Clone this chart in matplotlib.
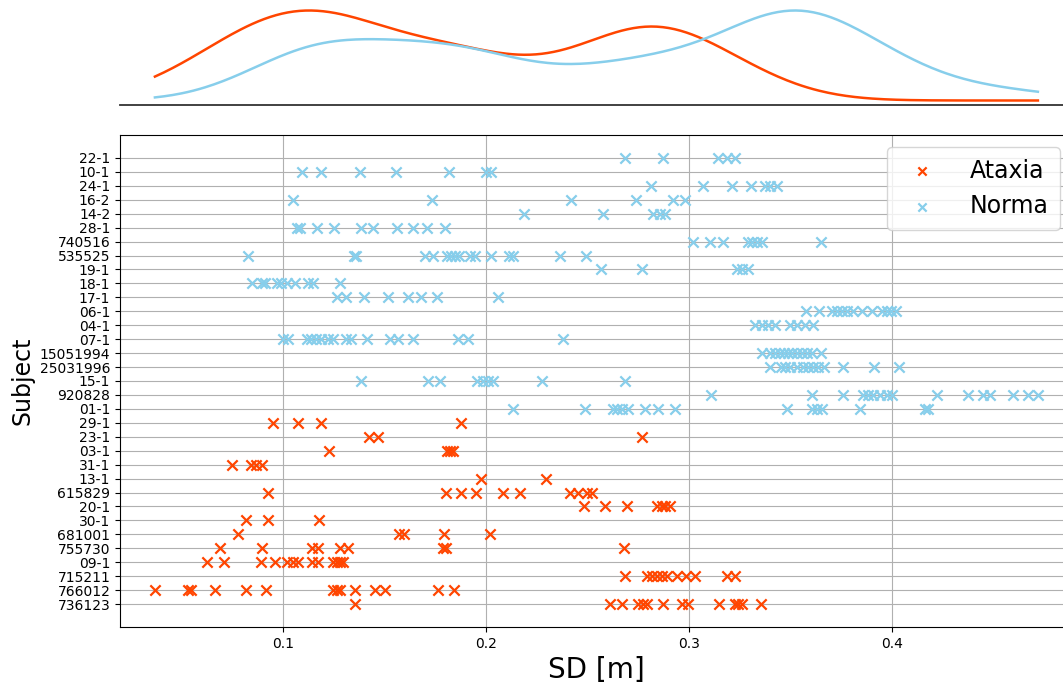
import numpy as np
import pandas as pd
import matplotlib
matplotlib.use("Agg")
import matplotlib.pyplot as plt

# Subjects listed top to bottom on the y axis
subject_order = [
    "22-1", "10-1", "24-1", "16-2", "14-2", "28-1", "740516", "535525", "19-1",
    "18-1", "17-1", "06-1", "04-1", "07-1", "15051994", "25031996", "15-1",
    "920828", "01-1", "29-1", "23-1", "03-1", "31-1", "13-1", "615829", "20-1",
    "30-1", "681001", "755730", "09-1", "715211", "766012", "736123",
]

# Step-width standard deviation per trial, control group
norma_subjects = [
    "22-1", "10-1", "24-1", "16-2", "14-2", "28-1", "740516", "535525", "19-1",
    "18-1", "17-1", "06-1", "04-1", "07-1", "15051994", "25031996", "15-1",
    "920828", "01-1",
]
norma_sd = [
    [0.2685, 0.2872, 0.3143, 0.3187, 0.3227],
    [0.1094, 0.1187, 0.1379, 0.1557, 0.1818, 0.1998, 0.2025],
    [0.2813, 0.3069, 0.3212, 0.3305, 0.3374, 0.3399, 0.3433],
    [0.1049, 0.1734, 0.2419, 0.2739, 0.2921, 0.2980],
    [0.2187, 0.2576, 0.2823, 0.2857, 0.2882],
    [0.1069, 0.1084, 0.1167, 0.1251, 0.1384, 0.1443, 0.1562, 0.1640, 0.1709, 0.1798],
    [0.3020, 0.3103, 0.3167, 0.3291, 0.3310, 0.3335, 0.3359, 0.3650],
    [0.0828, 0.1350, 0.1360, 0.1700, 0.1739, 0.1808, 0.1828, 0.1847, 0.1867,
     0.1921, 0.1946, 0.2025, 0.2113, 0.2133, 0.2365, 0.2493],
    [0.2567, 0.2768, 0.3236, 0.3261, 0.3291],
    [0.0847, 0.0897, 0.0911, 0.0970, 0.0990, 0.1020, 0.1059, 0.1123, 0.1148, 0.1281],
    [0.1266, 0.1310, 0.1399, 0.1517, 0.1616, 0.1680, 0.1759, 0.2059],
    [0.3576, 0.3640, 0.3704, 0.3729, 0.3754, 0.3778, 0.3808, 0.3852, 0.3901,
     0.3951, 0.3975, 0.3995, 0.4020],
    [0.3325, 0.3360, 0.3389, 0.3424, 0.3498, 0.3532, 0.3571, 0.3611],
    [0.1000, 0.1025, 0.1118, 0.1138, 0.1163, 0.1187, 0.1222, 0.1246, 0.1310,
     0.1335, 0.1414, 0.1527, 0.1567, 0.1640, 0.1862, 0.1911, 0.2379],
    [0.3360, 0.3399, 0.3424, 0.3448, 0.3468, 0.3488, 0.3507, 0.3532, 0.3557,
     0.3581, 0.3606, 0.3650],
    [0.3399, 0.3453, 0.3473, 0.3498, 0.3532, 0.3562, 0.3586, 0.3611, 0.3636,
     0.3665, 0.3759, 0.3911, 0.4034],
    [0.1384, 0.1714, 0.1773, 0.1956, 0.1985, 0.2010, 0.2034, 0.2276, 0.2685],
    [0.3108, 0.3606, 0.3759, 0.3857, 0.3882, 0.3906, 0.3941, 0.3975, 0.4000,
     0.4222, 0.4374, 0.4448, 0.4483, 0.4596, 0.4670, 0.4719],
    [0.2133, 0.2488, 0.2626, 0.2645, 0.2670, 0.2700, 0.2783, 0.2847, 0.2931,
     0.3483, 0.3606, 0.3631, 0.3655, 0.3842, 0.4163, 0.4177],
]

# Step-width standard deviation per trial, ataxia group
ataxia_subjects = [
    "29-1", "23-1", "03-1", "31-1", "13-1", "615829", "20-1", "30-1",
    "681001", "755730", "09-1", "715211", "766012", "736123",
]
ataxia_sd = [
    [0.0951, 0.1074, 0.1187, 0.1877],
    [0.1424, 0.1468, 0.2768],
    [0.1227, 0.1808, 0.1823, 0.1837],
    [0.0749, 0.0842, 0.0867, 0.0897],
    [0.1975, 0.2296],
    [0.0926, 0.1803, 0.1877, 0.1951, 0.2084, 0.2167, 0.2414, 0.2453, 0.2498, 0.2522],
    [0.2483, 0.2586, 0.2695, 0.2842, 0.2867, 0.2882, 0.2906],
    [0.0818, 0.0926, 0.1177],
    [0.0778, 0.1571, 0.1596, 0.1793, 0.2020],
    [0.0690, 0.0897, 0.1143, 0.1172, 0.1281, 0.1320, 0.1788, 0.1803, 0.2680],
    [0.0626, 0.0709, 0.0892, 0.0961, 0.1020, 0.1049, 0.1074, 0.1143, 0.1172,
     0.1246, 0.1266, 0.1281, 0.1296],
    [0.2685, 0.2793, 0.2818, 0.2842, 0.2867, 0.2892, 0.2941, 0.2985, 0.3030,
     0.3187, 0.3227],
    [0.0369, 0.0532, 0.0547, 0.0665, 0.0818, 0.0916, 0.1246, 0.1266, 0.1281,
     0.1355, 0.1453, 0.1502, 0.1764, 0.1842],
    [0.1355, 0.2611, 0.2670, 0.2749, 0.2773, 0.2793, 0.2872, 0.2966, 0.2995,
     0.3148, 0.3227, 0.3241, 0.3261, 0.3355],
]

group_names = ["Ataxia", "Norma"]
group_colors = {"Ataxia": "#FF4500", "Norma": "#87CEEB"}
group_bw_adjust = {"Ataxia": 0.9, "Norma": 0.8}


def to_long(group, subjects, values):
    rows = []
    for subj, vals in zip(subjects, values):
        for v in vals:
            rows.append((group, subj, v))
    return rows


def gaussian_kde(samples, grid, bw_adjust=1.0):
    """Gaussian kernel density with Scott's rule bandwidth."""
    samples = np.asarray(samples, dtype=float)
    n = samples.size
    bw = samples.std(ddof=1) * n ** (-1 / 5) * bw_adjust
    z = (grid[:, None] - samples[None, :]) / bw
    return np.exp(-0.5 * z ** 2).sum(axis=1) / (n * bw * np.sqrt(2 * np.pi))


df = pd.DataFrame(
    to_long("Ataxia", ataxia_subjects, ataxia_sd) + to_long("Norma", norma_subjects, norma_sd),
    columns=["group", "subject", "sd"],
)
ypos = {s: len(subject_order) - 1 - i for i, s in enumerate(subject_order)}
df["y"] = df["subject"].map(ypos)

W, H = 1063, 684
fig = plt.figure(figsize=(W / 100, H / 100), dpi=100)

ax_right = 1072
x_limits = (0.0197, 0.4887)
ax = fig.add_axes([120 / W, (H - 627) / H, (ax_right - 120) / W, (627 - 135) / H])
ax_top = fig.add_axes([120 / W, (H - 105) / H, (ax_right - 120) / W, (105 - 6) / H])

for g in group_names:
    sub = df[df["group"] == g]
    ax.scatter(sub["sd"], sub["y"], marker="x", s=55, linewidths=1.6,
               color=group_colors[g], label=g, zorder=3)

ax.set_yticks(range(len(subject_order)))
ax.set_yticklabels(subject_order[::-1], fontsize=10)
ax.set_ylim(-1.65, len(subject_order) - 1 + 1.65)
ax.set_xlim(*x_limits)
ax.set_xticks([0.1, 0.2, 0.3, 0.4])
ax.tick_params(axis="x", labelsize=10)
ax.grid(True, color="#b0b0b0", linewidth=0.8)
ax.set_axisbelow(True)
ax.set_xlabel("SD [m]", fontsize=20)
ax.set_ylabel("Subject", fontsize=17)
ax.legend(loc="upper right", fontsize=17, markerscale=0.8, handletextpad=1.0,
          borderpad=0.5, framealpha=0.8)

# Density of each group over the shared SD range, scaled to its own peak
grid = np.linspace(df["sd"].min(), df["sd"].max(), 300)
for g in group_names:
    dens = gaussian_kde(df.loc[df["group"] == g, "sd"], grid,
                        bw_adjust=group_bw_adjust[g])
    ax_top.plot(grid, dens / dens.max(), color=group_colors[g], linewidth=1.8)
for side in ["top", "left", "right"]:
    ax_top.spines[side].set_visible(False)
ax_top.spines["bottom"].set_color("#333333")
ax_top.spines["bottom"].set_linewidth(1.3)
ax_top.set_xlim(*x_limits)
ax_top.set_ylim(-0.05, 1.05)
ax_top.set_xticks([])
ax_top.set_yticks([])

fig.savefig("out.png", dpi=100)
